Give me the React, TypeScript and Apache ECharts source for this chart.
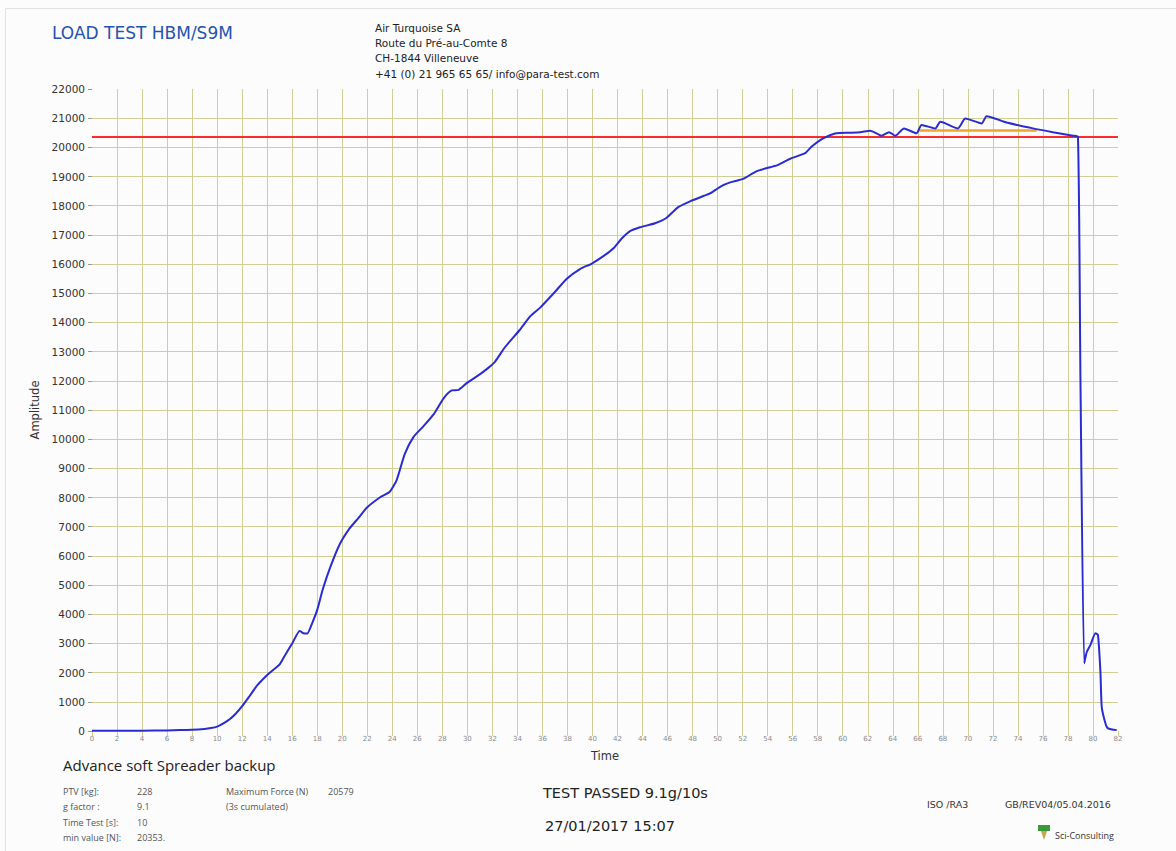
import React, { useEffect, useRef } from "react";
import * as echarts from "echarts";

// ---- data ----
const TIME = [
  0, 2, 4, 6, 7, 8, 9, 9.5, 10, 10.5, 11, 11.5, 12, 12.6, 13.2, 14.0, 14.5, 15.0, 15.5, 16.0,
  16.6, 16.9, 17.2, 17.6, 18.0, 18.44, 19.03, 19.8, 20.6, 21.3, 21.96, 23.0, 23.8, 24.35, 25.0,
  25.7, 26.5, 27.3, 28.1, 28.75, 29.3, 29.95, 30.75, 31.55, 32.2, 33.0, 34.2, 35.0, 35.8, 36.9,
  37.95, 39.0, 39.95, 40.9, 41.7, 42.3, 43.0, 43.8, 45.0, 45.9, 46.85, 47.8, 48.9, 49.4, 50.2,
  51.0, 52.05, 53.1, 54.2, 54.85, 55.8, 57.0, 57.5, 58.2, 58.8, 59.5, 60.5, 61.4, 62.2, 63.1,
  63.7, 64.2, 64.9, 65.9, 66.3, 67.4, 67.8, 69.2, 69.8, 71.1, 71.5, 73.1, 75.2, 76.8, 78.4,
  78.8, 79.0, 79.3, 79.5, 79.8, 80.2, 80.4, 80.6, 80.7, 81.0, 81.2, 81.9,
];
const AMPLITUDE = [
  10, 10, 10, 20, 30, 40, 70, 100, 150, 260, 400, 600, 850, 1200, 1560, 1920, 2100, 2280, 2650, 3000,
  3430, 3350, 3340, 3700, 4150, 4850, 5600, 6400, 6950, 7300, 7650, 8000, 8200, 8600, 9500,
  10080, 10450, 10850, 11400, 11670, 11690, 11920, 12150, 12400, 12650, 13150, 13750, 14200, 14500, 15000,
  15500, 15830, 16020, 16280, 16550, 16860, 17130, 17260, 17400, 17580, 17950, 18150, 18340, 18420, 18650,
  18800, 18920, 19180, 19320, 19400, 19610, 19800, 20020, 20250, 20380, 20480, 20500, 20520, 20570, 20400,
  20520, 20400, 20650, 20480, 20770, 20650, 20880, 20650, 20990, 20820, 21070, 20850, 20650, 20520, 20400,
  20360, 12000, 2320, 2700, 2950, 3350, 3290, 1980, 830, 260, 90, 30,
];
const MIN_VALUE = 20353; // red threshold line
const MAX_FORCE = 20579; // orange 3s cumulated
const MAX_FORCE_TIMES = [66.1, 75.5];
const THRESHOLD_TIMES = [0, 82];
const X_MIN = 0;
const X_MAX = 82;
const X_STEP = 2;
const Y_MIN = 0;
const Y_MAX = 22000;
const Y_STEP = 1000;

const TITLE = "LOAD TEST HBM/S9M";
const ADDRESS = [
  "Air Turquoise SA",
  "Route du Pré-au-Comte 8",
  "CH-1844 Villeneuve",
  "+41 (0) 21 965 65 65/ info@para-test.com",
];
const INFO_LABELS = ["PTV [kg]:", "g factor :", "Time Test [s]:", "min value [N]:"];
const INFO_VALUES = ["228", "9.1", "10", "20353."];

const GRID_COLOR = "#d0d096";

export default function App() {
  const ref = useRef<HTMLDivElement>(null);
  useEffect(() => {
    if (!ref.current) return;
    const chart = echarts.init(ref.current, null, { renderer: "svg" });
    const blue = TIME.map((t, i) => [t, AMPLITUDE[i]]);
    const red = THRESHOLD_TIMES.map((t) => [t, MIN_VALUE]);
    const orange = MAX_FORCE_TIMES.map((t) => [t, MAX_FORCE]);
    const sans = "DejaVu Sans";
    const seg = "Open Sans";
    const txt = (x: number, y: number, text: string, o: any = {}) => ({
      type: "text",
      x,
      y,
      style: {
        text,
        fontFamily: o.ff || sans,
        fontSize: o.fs || 10,
        fill: o.fill || "#222",
        textVerticalAlign: "middle",
        textAlign: o.align || "left",
        fontWeight: o.fw || "normal",
      },
    });
    const graphics: any[] = [
      {
        type: "rect",
        shape: { x: 5.5, y: 8.5, width: 1180, height: 860 },
        style: { fill: "none", stroke: "#e2e2e2", lineWidth: 1 },
        silent: true,
      },
      txt(52, 33, TITLE, { fs: 17, fill: "#2553b0" }),
      ...ADDRESS.map((a, i) => txt(375, 28 + i * 15.2, a, { fs: 10.5, fill: "#222" })),
      txt(63, 765, "Advance soft Spreader backup", { ff: seg, fs: 15, fill: "#222" }),
      ...INFO_LABELS.map((l, i) => txt(63, 791 + i * 15.5, l, { ff: seg, fs: 9, fill: "#555" })),
      ...INFO_VALUES.map((v, i) => txt(137, 791 + i * 15.5, v, { ff: seg, fs: 9, fill: "#555" })),
      txt(226, 791, "Maximum Force (N)", { ff: seg, fs: 9, fill: "#555" }),
      txt(328, 791, String(MAX_FORCE), { ff: seg, fs: 9, fill: "#555" }),
      txt(226, 806.5, "(3s cumulated)", { ff: seg, fs: 9, fill: "#555" }),
      txt(543, 793, "TEST PASSED 9.1g/10s", { fs: 14.5, fill: "#222" }),
      txt(545, 826, "27/01/2017 15:07", { fs: 14.5, fill: "#222" }),
      txt(927, 804, "ISO /RA3", { fs: 9.5, fill: "#333" }),
      txt(1005, 804, "GB/REV04/05.04.2016", { fs: 9.5, fill: "#333" }),
      {
        type: "rect",
        shape: { x: 1038, y: 825, width: 12, height: 6 },
        style: { fill: "#3a9a3a" },
      },
      {
        type: "polygon",
        shape: { points: [[1041, 831], [1047, 831], [1044, 840]] },
        style: { fill: "#c9a24a" },
      },
      txt(1055, 835, "Sci-Consulting", { ff: seg, fs: 9, fill: "#333" }),
    ];

    chart.setOption({
      animation: false,
      backgroundColor: "#fcfcfc",
      grid: { left: 92, right: 58, top: 89, bottom: 120, containLabel: false },
      xAxis: {
        type: "value",
        min: X_MIN,
        max: X_MAX,
        interval: X_STEP,
        name: "Time",
        nameLocation: "middle",
        nameGap: 19,
        nameTextStyle: { fontFamily: sans, fontSize: 11.5, color: "#333" },
        axisLine: { show: false },
        axisTick: { show: true, length: 5, lineStyle: { color: GRID_COLOR } },
        axisLabel: { fontFamily: sans, fontSize: 7, color: "#8a8a8a", margin: 4 },
        splitLine: {
          show: true,
          showMinLine: false,
          showMaxLine: false,
          lineStyle: { color: GRID_COLOR, width: 1 },
        },
      },
      yAxis: {
        type: "value",
        min: Y_MIN,
        max: Y_MAX,
        interval: Y_STEP,
        name: "Amplitude",
        nameLocation: "middle",
        nameGap: 40,
        nameRotate: 90,
        nameTextStyle: { fontFamily: sans, fontSize: 11.5, color: "#333" },
        axisLine: { show: false },
        axisTick: { show: true, length: 4, lineStyle: { color: "#999" } },
        axisLabel: {
          fontFamily: sans,
          fontSize: 10.5,
          color: "#333",
          margin: 7,
          formatter: (v: number) => String(v),
        },
        splitLine: {
          show: true,
          showMinLine: false,
          showMaxLine: false,
          lineStyle: { color: GRID_COLOR, width: 1 },
        },
      },
      graphic: graphics,
      series: [
        {
          name: "min value",
          type: "line",
          data: red,
          showSymbol: false,
          lineStyle: { color: "#ff2a2a", width: 2 },
          z: 2,
        },
        {
          name: "max force",
          type: "line",
          data: orange,
          showSymbol: false,
          lineStyle: { color: "#f0a52a", width: 2.5 },
          z: 2,
        },
        {
          name: "force",
          type: "line",
          data: blue,
          showSymbol: false,
          smooth: 0.2,
          lineStyle: { color: "#2b2bd4", width: 2 },
          z: 3,
        },
      ],
    });
    return () => chart.dispose();
  }, []);
  return (
    <div
      ref={ref}
      style={{ position: "fixed", left: 0, top: 0, width: 1176, height: 851 }}
    />
  );
}
